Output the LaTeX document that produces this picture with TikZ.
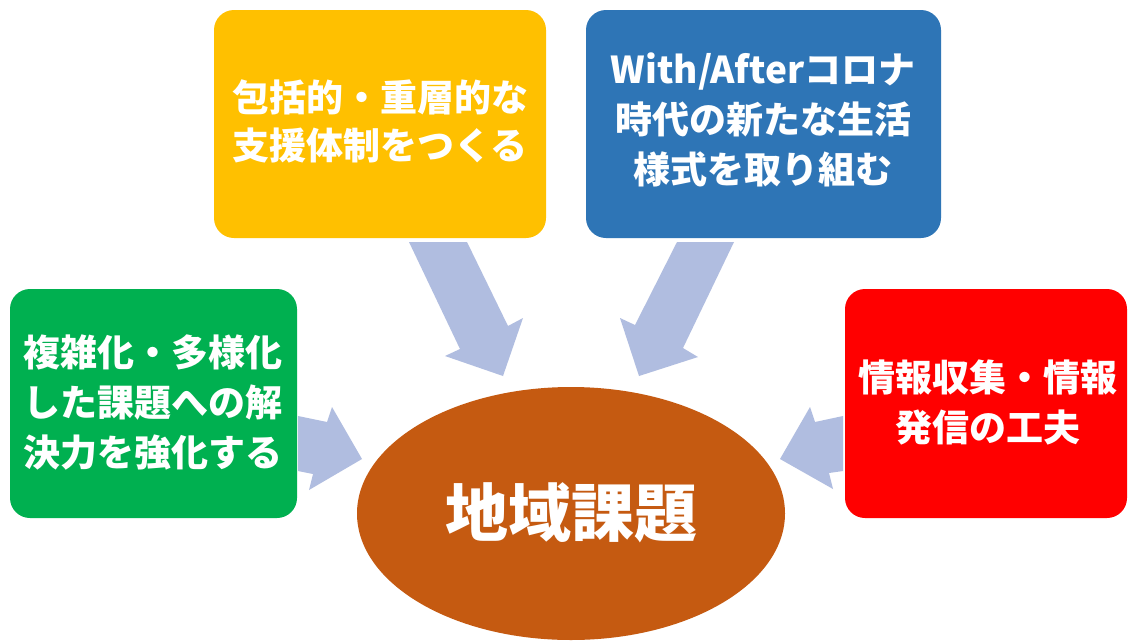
\documentclass[tikz,border=0pt]{standalone}
\usepackage{fontspec}
\setmainfont{Noto Sans CJK JP}
\usetikzlibrary{shapes.geometric}
\definecolor{cyellow}{HTML}{FFC000}
\definecolor{cblue}{HTML}{2E75B6}
\definecolor{cgreen}{HTML}{00B050}
\definecolor{cred}{HTML}{FF0000}
\definecolor{cbrown}{HTML}{C55A11}
\definecolor{carrow}{HTML}{B0BDE0}
\tikzset{
  box/.style={rounded corners=20pt, draw=none, text=white, align=center,
    font=\fontsize{37}{50}\selectfont\bfseries, inner sep=0pt},
  blockarrow/.style={fill=carrow, draw=none},
}
\begin{document}
\begin{tikzpicture}[x=1pt,y=-1pt]
\useasboundingbox (0,0) rectangle (1128,641);
\fill[white] (0,0) rectangle (1128,641);
% block arrows
\fill[blockarrow] (409,242) -- (467,242) -- (508,326) -- (523,318) -- (503,376) -- (445,356) -- (460,349) -- cycle;
\fill[blockarrow] (734,242) -- (677,242) -- (635,325) -- (620,318) -- (639,376) -- (698,357) -- (683,348) -- cycle;
\fill[blockarrow] (298,416) -- (327,422) -- (332,407) -- (362,459) -- (309,490) -- (313,474) -- (298,471) -- cycle;
\fill[blockarrow] (843,416) -- (815,422) -- (810,407) -- (780,459) -- (833,489) -- (829,473) -- (843,471) -- cycle;
% boxes
\node[box, fill=cyellow, minimum width=332pt, minimum height=228pt] (yellow) at (380,124) {};
\node[text=white, align=center, font=\fontsize{37}{48}\selectfont\bfseries] (yellowtext) at (380,121) {包括的・重層的な\\支援体制をつくる};
\node[box, fill=cblue, minimum width=355pt, minimum height=228pt] (blue) at (763.5,124) {};
\node[text=white, align=center, font=\fontsize{37}{50}\selectfont\bfseries] (bluetext) at (763,120) {With/Afterコロナ\\時代の新たな生活\\様式を取り組む};
\node[box, fill=cgreen, minimum width=287pt, minimum height=229pt] (green) at (153.5,403.5) {};
\node[text=white, align=center, font=\fontsize{37}{50}\selectfont\bfseries] (greentext) at (153,402) {複雑化・多様化\\した課題への解\\決力を強化する};
\node[box, fill=cred, minimum width=282pt, minimum height=229pt] (red) at (986,403.5) {};
\node[text=white, align=center, font=\fontsize{37}{50}\selectfont\bfseries] (redtext) at (988,402) {情報収集・情報\\発信の工夫};
% ellipse
\node[ellipse, fill=cbrown, minimum width=428pt, minimum height=253pt, inner sep=0pt] (center) at (571,513.5) {};
\node[text=white, font=\fontsize{63}{70}\selectfont\bfseries] (centertext) at (571,513) {地域課題};
\end{tikzpicture}
\end{document}
